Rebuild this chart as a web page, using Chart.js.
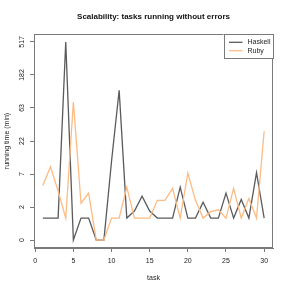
<!DOCTYPE html>
<html>
<head>
<meta charset="utf-8">
<script src="https://cdn.jsdelivr.net/npm/chart.js@4/dist/chart.umd.min.js"></script>
<style>
  html, body { margin: 0; padding: 0; background: #fff; }
  #wrap { width: 291px; height: 291px; }
</style>
</head>
<body>
<div id="wrap"><canvas id="chart"></canvas></div>
<script>
// task numbers on the x axis
const tasks = [1, 2, 3, 4, 5, 6, 7, 8, 9, 10, 11, 12, 13, 14, 15,
               16, 17, 18, 19, 20, 21, 22, 23, 24, 25, 26, 27, 28, 29, 30];

// running time in minutes
const haskell = [1, 1, 1, 517, 0, 1, 1, 0, 0, 11, 112, 1, 1.5, 3, 1.5,
                 1, 1, 1, 4.3, 1, 1, 2.3, 1, 1, 3.4, 1, 2.6, 1, 7.4, 1];
const ruby = [4.6, 9.1, 3.7, 1, 77, 2.2, 3.4, 0, 0, 1, 1, 4.3, 1, 1, 1,
              2.5, 2.5, 4.1, 1, 7.3, 2.5, 1, 1.45, 1.6, 1, 4.1, 1, 2.7, 1, 30];

// axis ticks
const xTicks = [0, 5, 10, 15, 20, 25, 30];
const yTickLabels = ['0', '2', '7', '22', '63', '182', '517'];

// y is drawn on a log(1 + t) scale, ticks evenly spaced up to the max
const yMax = Math.log1p(517);
const yStep = yMax / (yTickLabels.length - 1);

const FONT = "'Liberation Sans', Arial, sans-serif";
const AXIS_GRAY = '#7a7a7a';
const TEXT = '#222';

function toPoints(values) {
    return tasks.map((t, i) => ({ x: t, y: Math.log1p(values[i]) }));
}

// R-like box, rotated y labels and boxed legend
const rDecor = {
    id: 'rDecor',
    afterDraw(chart) {
        const ctx = chart.ctx;
        const a = chart.chartArea;
        const yScale = chart.scales.y;
        ctx.save();

        ctx.strokeStyle = AXIS_GRAY;
        ctx.lineWidth = 1;
        ctx.strokeRect(Math.round(a.left) + 0.5, Math.round(a.top) + 0.5,
                       Math.round(a.right - a.left) - 1, Math.round(a.bottom - a.top) - 1);

        ctx.fillStyle = TEXT;
        ctx.font = '7px ' + FONT;
        ctx.textAlign = 'center';
        ctx.textBaseline = 'middle';
        yTickLabels.forEach((lab, k) => {
            const y = yScale.getPixelForValue(k * yStep);
            ctx.save();
            ctx.translate(a.left - 12, y);
            ctx.rotate(-Math.PI / 2);
            ctx.fillText(lab, 0, 0);
            ctx.restore();
        });

        // legend
        const lx = a.right - 49.5, ly = a.top, lw = 49.5, lh = 25;
        ctx.fillStyle = '#fff';
        ctx.fillRect(lx, ly, lw, lh);
        ctx.strokeStyle = AXIS_GRAY;
        ctx.strokeRect(Math.round(lx) + 0.5, Math.round(ly) + 0.5, Math.round(lw) - 1, Math.round(lh) - 1);
        chart.data.datasets.forEach((ds, i) => {
            const yy = ly + 8.3 + i * 8.4;
            ctx.strokeStyle = ds.borderColor;
            ctx.lineWidth = ds.borderWidth;
            ctx.beginPath();
            ctx.moveTo(lx + 5.5, yy);
            ctx.lineTo(lx + 19, yy);
            ctx.stroke();
            ctx.fillStyle = TEXT;
            ctx.textAlign = 'left';
            ctx.fillText(ds.label, lx + 24, yy);
        });
        ctx.restore();
    }
};

new Chart(document.getElementById('chart'), {
    type: 'line',
    data: {
        datasets: [{
            label: 'Haskell',
            data: toPoints(haskell),
            borderColor: '#5a5a5a',
            borderWidth: 1.3,
            pointRadius: 0,
            tension: 0,
            order: 1
        }, {
            label: 'Ruby',
            data: toPoints(ruby),
            borderColor: '#fdbb84',
            borderWidth: 1.3,
            pointRadius: 0,
            tension: 0,
            order: 0
        }]
    },
    options: {
        responsive: true,
        maintainAspectRatio: false,
        animation: false,
        layout: { padding: { left: 0, right: 18, top: 0, bottom: 0 } },
        plugins: {
            legend: { display: false },
            tooltip: { enabled: false },
            title: {
                display: true,
                fullSize: false,
                text: 'Scalability: tasks running without errors',
                color: '#111',
                font: { family: FONT, size: 8, weight: 'bold' },
                padding: { top: 12.2, bottom: 12.2 }
            }
        },
        scales: {
            x: {
                type: 'linear',
                min: -0.16,
                max: 31.16,
                afterFit(scale) { scale.height = 43; },
                afterBuildTicks(scale) { scale.ticks = xTicks.map(v => ({ value: v })); },
                grid: { drawOnChartArea: false, tickLength: 4, color: AXIS_GRAY },
                border: { color: AXIS_GRAY },
                ticks: { color: TEXT, font: { family: FONT, size: 7 }, padding: 5, maxRotation: 0 },
                title: {
                    display: true, text: 'task', color: TEXT,
                    font: { family: FONT, size: 7 }, padding: { top: 0, bottom: 9 }
                }
            },
            y: {
                type: 'linear',
                min: -0.04 * yMax,
                max: 1.04 * yMax,
                afterFit(scale) { scale.width = 34; },
                afterBuildTicks(scale) { scale.ticks = yTickLabels.map((_, k) => ({ value: k * yStep })); },
                grid: { drawOnChartArea: false, tickLength: 4, color: AXIS_GRAY },
                border: { color: AXIS_GRAY },
                ticks: { display: false },
                title: {
                    display: true, text: 'running time (min)', color: TEXT,
                    font: { family: FONT, size: 7 }, padding: { top: 2.8, bottom: 0 }
                }
            }
        }
    },
    plugins: [rDecor]
});
</script>
</body>
</html>
